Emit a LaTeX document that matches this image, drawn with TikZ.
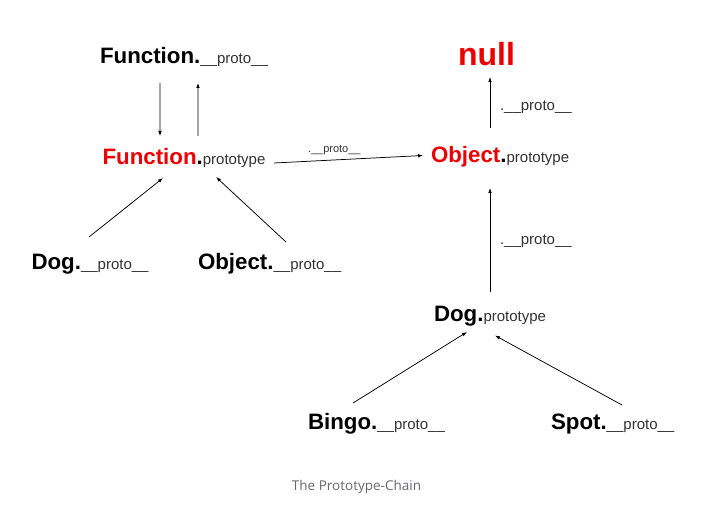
\documentclass[tikz,border=0pt]{standalone}
\usepackage{fontspec}
\setmainfont{Liberation Sans}
\newfontfamily\capfont{Open Sans}
\usetikzlibrary{arrows.meta,calc}
\definecolor{myred}{RGB}{236,0,0}
\definecolor{smallgray}{RGB}{51,51,51}
\definecolor{capgray}{RGB}{105,105,110}
\newcommand{\bigtx}[1]{{\fontsize{22.3bp}{26bp}\selectfont\bfseries #1}}
\newcommand{\smltx}[1]{{\fontsize{15bp}{18bp}\selectfont\color{smallgray}#1}}
\newcommand{\lbltx}[1]{{\fontsize{15bp}{18bp}\selectfont\color{smallgray}#1}}
\newcommand{\tlbltx}[1]{{\fontsize{11bp}{13bp}\selectfont\color{smallgray}#1}}
\tikzset{
  txt/.style={anchor=base west,inner sep=0pt,outer sep=0pt},
  arr/.style={-{Latex[length=5bp,width=3.6bp]},line width=0.75bp,black}
}
\begin{document}
\begin{tikzpicture}[x=1bp,y=-1bp]
\useasboundingbox (0,0) rectangle (720,508);
\fill[white] (0,0) rectangle (720,508);
\node[txt] (fnp) at (100,64) {\bigtx{Function.}\smltx{\_\_proto\_\_}};
\node[txt] (fp) at (102.5,165) {\bigtx{\color{myred}Function}\bigtx{.}\smltx{prototype}};
\node[txt] (op) at (431,162.5) {\bigtx{\color{myred}Object}\bigtx{.}\smltx{prototype}};
\node[txt] (nul) at (458,66) {{\fontsize{32bp}{36bp}\selectfont\bfseries\color{myred}null}};
\node[txt] (dogpr) at (31.5,270) {\bigtx{Dog.}\smltx{\_\_proto\_\_}};
\node[txt] (objpr) at (198,270) {\bigtx{Object.}\smltx{\_\_proto\_\_}};
\node[txt] (dp) at (434,321.5) {\bigtx{Dog.}\smltx{prototype}};
\node[txt] (bingo) at (308,429) {\bigtx{Bingo.}\smltx{\_\_proto\_\_}};
\node[txt] (spot) at (551,429) {\bigtx{Spot.}\smltx{\_\_proto\_\_}};
\node[anchor=base,inner sep=0pt] (cap) at (356.5,490) {\capfont\fontsize{13.5bp}{16bp}\selectfont\color{capgray}The Prototype-Chain};

\draw[arr] ([shift={(60,19)}]fnp.base west) -- ([shift={(57.5,-29)}]fp.base west);
\draw[arr] ([shift={(95.5,-29)}]fp.base west) -- ([shift={(98,19)}]fnp.base west);
\draw[arr] ([shift={(57.5,-33)}]dogpr.base west) -- ([shift={(60.5,13)}]fp.base west);
\draw[arr] ([shift={(88,-28)}]objpr.base west) -- ([shift={(113.5,12)}]fp.base west);
\draw[arr] ([shift={(171.5,-2)}]fp.base west) -- ([shift={(-8,-7)}]op.base west);
\node[txt] (l1) at (308,152.5) {\tlbltx{.\_\_proto\_\_}};
\draw[arr] ([shift={(59,-34.5)}]op.base west) -- ([shift={(32,11)}]nul.base west);
\node[txt] (l2) at (500,111) {\lbltx{.\_\_proto\_\_}};
\draw[arr] ([shift={(56,-29.5)}]dp.base west) -- ([shift={(59,25.5)}]op.base west);
\node[txt] (l3) at (500,245) {\lbltx{.\_\_proto\_\_}};
\draw[arr] ([shift={(45,-26)}]bingo.base west) -- ([shift={(33,10.5)}]dp.base west);
\draw[arr] ([shift={(71,-24)}]spot.base west) -- ([shift={(61,14)}]dp.base west);
\end{tikzpicture}
\end{document}
